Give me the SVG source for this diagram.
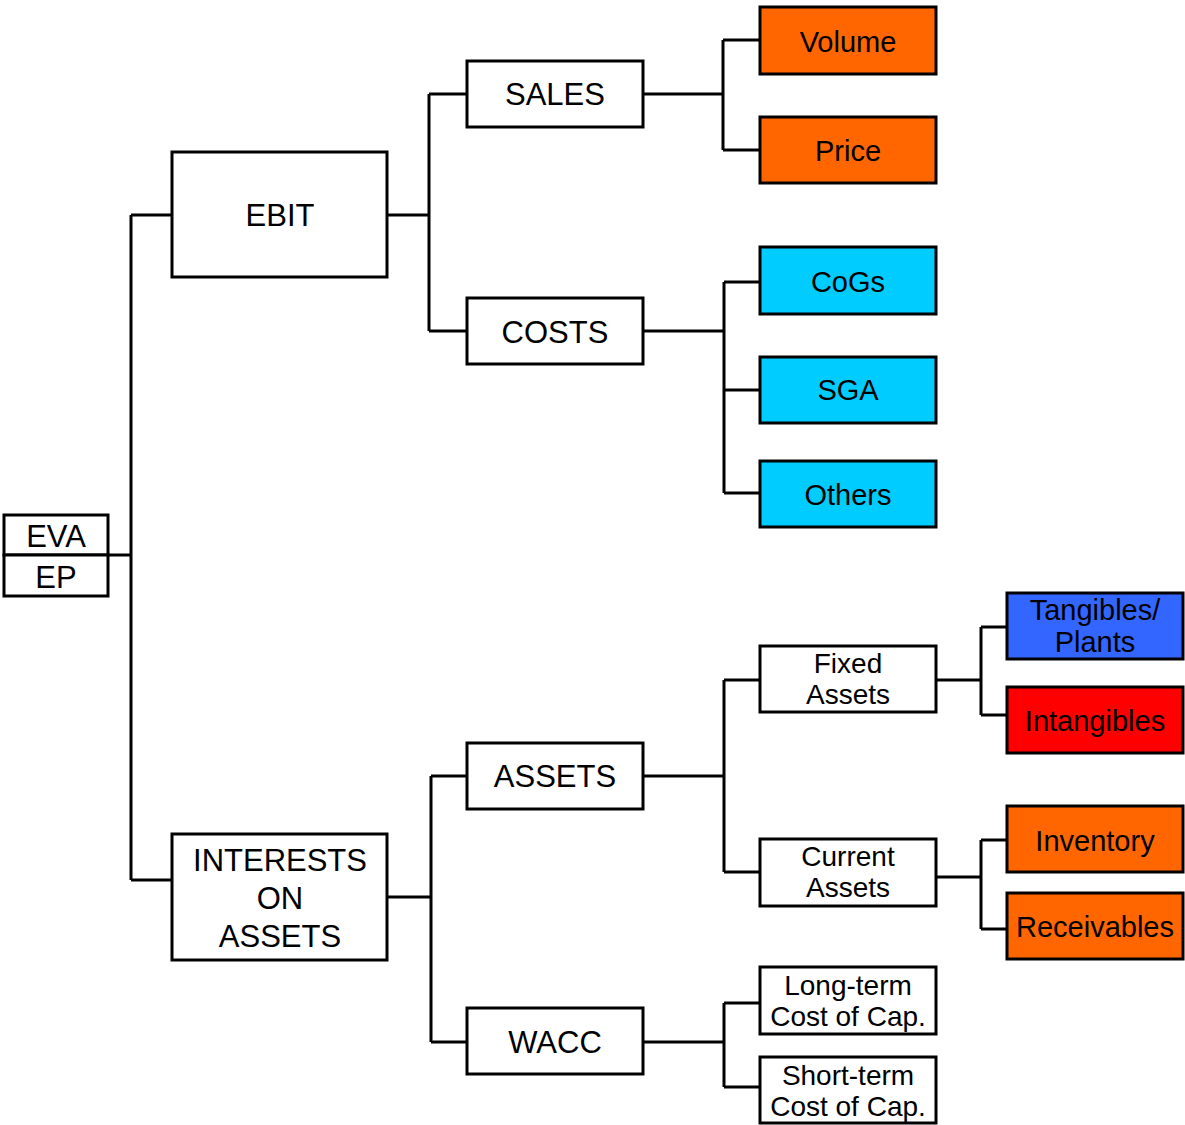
<svg xmlns="http://www.w3.org/2000/svg" width="1185" height="1125" viewBox="0 0 1185 1125">
<style>
.box{stroke:#000;stroke-width:3;fill:#fff}
.or{fill:#FF6600}
.cy{fill:#00CCFF}
.bl{fill:#3366FF}
.rd{fill:#FF0000}
text{font-family:"Liberation Sans",Arial,sans-serif;fill:#000;text-anchor:middle}
.t1{font-size:31px}
.t2{font-size:29px}
.t3{font-size:28px}
.con{stroke:#000;stroke-width:3;fill:none;stroke-linejoin:miter}
</style>
<rect width="1185" height="1125" fill="#fff"/>
<g id="connectors">
<path class="con" d="M108 555H131M131 215V880M131 215H172M131 880H172"/>
<path class="con" d="M387 215H429M429 94V331M429 94H467M429 331H467"/>
<path class="con" d="M643 94H723M723 40V150M723 40H760M723 150H760"/>
<path class="con" d="M643 331H724M724 282V493M724 282H760M724 390H760M724 493H760"/>
<path class="con" d="M387 897H431M431 776V1042M431 776H467M431 1042H467"/>
<path class="con" d="M643 776H724M724 680V872M724 680H760M724 872H760"/>
<path class="con" d="M937 680H981M981 627V715M981 627H1007M981 715H1007"/>
<path class="con" d="M937 877H981M981 840V929M981 840H1007M981 929H1007"/>
<path class="con" d="M643 1042H724M724 1003V1087M724 1003H760M724 1087H760"/>
</g>
<g id="eva">
<rect class="box" x="4" y="515" width="104" height="40"/>
<text class="t1" x="56" y="547">EVA</text>
</g>
<g id="ep">
<rect class="box" x="4" y="555" width="104" height="41"/>
<text class="t1" x="56" y="588">EP</text>
</g>
<g id="ebit">
<rect class="box" x="172" y="152" width="215" height="125"/>
<text class="t1" x="280" y="226">EBIT</text>
</g>
<g id="interests">
<rect class="box" x="172" y="834" width="215" height="126"/>
<text class="t1" x="280" y="871">INTERESTS</text>
<text class="t1" x="280" y="909">ON</text>
<text class="t1" x="280" y="947">ASSETS</text>
</g>
<g id="sales">
<rect class="box" x="467" y="61" width="176" height="66"/>
<text class="t1" x="555" y="105">SALES</text>
</g>
<g id="costs">
<rect class="box" x="467" y="298" width="176" height="66"/>
<text class="t1" x="555" y="343">COSTS</text>
</g>
<g id="assets">
<rect class="box" x="467" y="743" width="176" height="66"/>
<text class="t1" x="555" y="787">ASSETS</text>
</g>
<g id="wacc">
<rect class="box" x="467" y="1008" width="176" height="66"/>
<text class="t1" x="555" y="1053">WACC</text>
</g>
<g id="volume">
<rect class="box or" x="760" y="7" width="176" height="67"/>
<text class="t2" x="848" y="52">Volume</text>
</g>
<g id="price">
<rect class="box or" x="760" y="117" width="176" height="66"/>
<text class="t2" x="848" y="161">Price</text>
</g>
<g id="cogs">
<rect class="box cy" x="760" y="247" width="176" height="67"/>
<text class="t2" x="848" y="292">CoGs</text>
</g>
<g id="sga">
<rect class="box cy" x="760" y="357" width="176" height="66"/>
<text class="t2" x="848" y="400">SGA</text>
</g>
<g id="others">
<rect class="box cy" x="760" y="461" width="176" height="66"/>
<text class="t2" x="848" y="505">Others</text>
</g>
<g id="fixed">
<rect class="box" x="760" y="646" width="176" height="66"/>
<text class="t3" x="848" y="673">Fixed</text>
<text class="t3" x="848" y="704">Assets</text>
</g>
<g id="current">
<rect class="box" x="760" y="839" width="176" height="67"/>
<text class="t3" x="848" y="866">Current</text>
<text class="t3" x="848" y="897">Assets</text>
</g>
<g id="longterm">
<rect class="box" x="760" y="967" width="176" height="67"/>
<text class="t3" x="848" y="995">Long-term</text>
<text class="t3" x="848" y="1026">Cost of Cap.</text>
</g>
<g id="shortterm">
<rect class="box" x="760" y="1057" width="176" height="66"/>
<text class="t3" x="848" y="1085">Short-term</text>
<text class="t3" x="848" y="1116">Cost of Cap.</text>
</g>
<g id="tangibles">
<rect class="box bl" x="1007" y="593" width="176" height="66"/>
<text class="t2" x="1095" y="620">Tangibles/</text>
<text class="t2" x="1095" y="652">Plants</text>
</g>
<g id="intangibles">
<rect class="box rd" x="1007" y="687" width="176" height="66"/>
<text class="t2" x="1095" y="731">Intangibles</text>
</g>
<g id="inventory">
<rect class="box or" x="1007" y="806" width="176" height="66"/>
<text class="t2" x="1095" y="851">Inventory</text>
</g>
<g id="receivables">
<rect class="box or" x="1007" y="893" width="176" height="66"/>
<text class="t2" x="1095" y="937">Receivables</text>
</g>
</svg>
